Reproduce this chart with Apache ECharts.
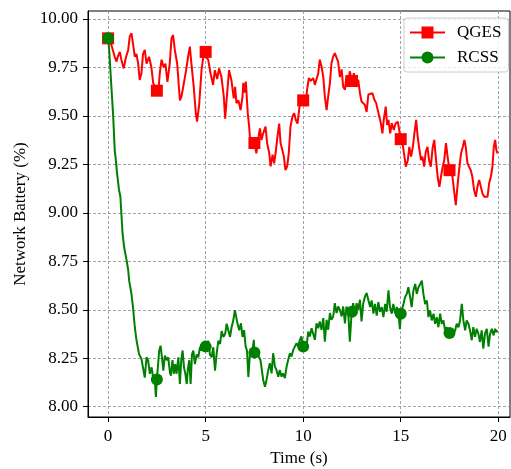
<!DOCTYPE html>
<html>
<head>
<meta charset="utf-8">
<script src="https://cdn.jsdelivr.net/npm/echarts@6/dist/echarts.min.js"></script>
<style>html,body{margin:0;padding:0;background:#fff}#c{width:511px;height:469px}</style>
</head>
<body>
<div id="c"></div>
<script>
// ---- data (time in s, battery in %) ----
const qgesLine = [
[0,9.90],[0.17,9.866],[0.34,9.805],[0.43,9.78],[0.51,9.81],[0.6,9.83],[0.68,9.79],[0.8,9.745],[0.91,9.80],[1.03,9.84],
[1.11,9.91],[1.2,9.926],[1.28,9.87],[1.37,9.805],[1.45,9.82],[1.54,9.77],[1.62,9.685],[1.71,9.72],[1.79,9.82],[1.88,9.84],
[1.97,9.77],[2.1,9.805],[2.22,9.75],[2.31,9.67],[2.39,9.65],[2.5,9.63],[2.56,9.607],[2.65,9.72],[2.74,9.79],[2.85,9.75],
[2.94,9.77],[3.04,9.676],[3.16,9.77],[3.25,9.90],[3.33,9.917],[3.42,9.84],[3.54,9.77],[3.68,9.58],[3.76,9.60],[3.88,9.667],
[4.0,9.736],[4.1,9.805],[4.19,9.857],[4.27,9.77],[4.39,9.65],[4.5,9.51],[4.56,9.47],[4.67,9.56],[4.79,9.736],[4.9,9.82],
[5.0,9.83],[5.13,9.79],[5.25,9.72],[5.38,9.66],[5.47,9.736],[5.59,9.69],[5.69,9.745],[5.81,9.70],[5.93,9.60],[6.0,9.486],
[6.1,9.615],[6.2,9.736],[6.32,9.685],[6.44,9.59],[6.51,9.65],[6.58,9.566],[6.68,9.58],[6.79,9.53],[6.89,9.60],[6.93,9.67],
[7.0,9.62],[7.06,9.677],[7.16,9.514],[7.23,9.445],[7.28,9.376],[7.37,9.36],[7.5,9.36],[7.6,9.307],[7.69,9.376],[7.78,9.436],
[7.86,9.376],[7.95,9.41],[8.07,9.445],[8.15,9.36],[8.26,9.307],[8.33,9.24],[8.43,9.30],[8.51,9.255],[8.6,9.32],[8.68,9.393],
[8.77,9.46],[8.84,9.36],[8.94,9.32],[9.01,9.29],[9.09,9.22],[9.18,9.24],[9.26,9.307],[9.35,9.445],[9.45,9.497],[9.54,9.514],
[9.62,9.48],[9.71,9.46],[9.79,9.53],[9.88,9.60],[10,9.58],[10.12,9.55],[10.2,9.635],[10.29,9.695],[10.39,9.68],[10.51,9.695],
[10.6,9.66],[10.68,9.67],[10.77,9.72],[10.85,9.79],[10.94,9.755],[11.03,9.70],[11.11,9.60],[11.2,9.53],[11.28,9.60],[11.37,9.67],
[11.45,9.772],[11.54,9.807],[11.62,9.824],[11.71,9.833],[11.79,9.78],[11.88,9.70],[11.97,9.74],[12.05,9.65],[12.14,9.635],[12.22,9.71],
[12.31,9.67],[12.39,9.73],[12.5,9.68],[12.6,9.72],[12.7,9.65],[12.82,9.686],[12.91,9.617],[12.99,9.574],[13.08,9.58],[13.16,9.557],
[13.25,9.52],[13.34,9.61],[13.43,9.617],[13.55,9.617],[13.65,9.583],[13.74,9.566],[13.82,9.53],[13.89,9.522],[13.98,9.462],[14.06,9.41],
[14.13,9.48],[14.23,9.548],[14.3,9.453],[14.37,9.48],[14.46,9.41],[14.54,9.462],[14.64,9.428],[14.74,9.462],[14.85,9.47],[15,9.38],
[15.09,9.36],[15.19,9.29],[15.26,9.238],[15.36,9.27],[15.44,9.34],[15.53,9.29],[15.62,9.34],[15.7,9.41],[15.79,9.48],[15.87,9.39],
[15.96,9.324],[16.04,9.272],[16.11,9.29],[16.2,9.238],[16.28,9.315],[16.37,9.34],[16.45,9.272],[16.54,9.238],[16.64,9.34],[16.72,9.376],
[16.81,9.272],[16.89,9.186],[16.98,9.134],[17.06,9.186],[17.15,9.238],[17.23,9.272],[17.32,9.36],[17.4,9.29],[17.5,9.22],[17.58,9.238],
[17.67,9.17],[17.75,9.10],[17.82,9.04],[17.89,9.117],[17.99,9.22],[18.09,9.307],[18.18,9.34],[18.26,9.376],[18.33,9.34],[18.42,9.255],
[18.5,9.238],[18.59,9.22],[18.67,9.186],[18.76,9.117],[18.85,9.083],[18.93,9.134],[19.02,9.17],[19.1,9.178],[19.19,9.10],[19.28,9.083],
[19.36,9.09],[19.45,9.083],[19.53,9.152],[19.62,9.186],[19.7,9.238],[19.77,9.34],[19.84,9.376],[19.9,9.324],[19.96,9.307]
];
const rcssLine = [
[0,9.90],[0.05,9.85],[0.15,9.68],[0.26,9.50],[0.34,9.324],[0.39,9.28],[0.46,9.204],[0.56,9.118],[0.63,9.083],[0.68,8.998],
[0.74,8.895],[0.82,8.825],[0.94,8.76],[1.03,8.705],[1.08,8.65],[1.2,8.58],[1.28,8.51],[1.37,8.41],[1.46,8.34],[1.59,8.27],
[1.71,8.247],[1.8,8.24],[1.88,8.15],[1.97,8.255],[2.05,8.24],[2.14,8.17],[2.23,8.203],[2.31,8.15],[2.4,8.126],[2.45,8.05],
[2.5,8.14],[2.62,8.29],[2.69,8.315],[2.76,8.255],[2.83,8.186],[2.91,8.264],[3.0,8.24],[3.08,8.255],[3.17,8.178],[3.22,8.16],
[3.3,8.24],[3.37,8.17],[3.44,8.22],[3.51,8.17],[3.6,8.255],[3.68,8.117],[3.75,8.24],[3.82,8.29],[3.89,8.203],[3.96,8.17],
[4.03,8.117],[4.09,8.195],[4.16,8.24],[4.23,8.117],[4.3,8.27],[4.37,8.29],[4.45,8.22],[4.54,8.27],[4.62,8.255],[4.71,8.307],
[4.79,8.29],[4.88,8.307],[4.96,8.324],[5.0,8.31],[5.05,8.29],[5.14,8.34],[5.22,8.27],[5.31,8.255],[5.39,8.307],[5.48,8.186],
[5.56,8.27],[5.65,8.34],[5.74,8.324],[5.82,8.39],[5.91,8.36],[6.0,8.376],[6.08,8.428],[6.17,8.39],[6.25,8.36],[6.33,8.41],
[6.42,8.447],[6.5,8.498],[6.58,8.50],[6.63,8.43],[6.72,8.395],[6.81,8.43],[6.89,8.36],[6.97,8.395],[7.05,8.31],[7.12,8.29],
[7.19,8.153],[7.28,8.29],[7.38,8.276],[7.47,8.345],[7.5,8.28],[7.56,8.276],[7.64,8.293],[7.72,8.259],[7.81,8.241],[7.88,8.19],
[7.95,8.138],[8.04,8.103],[8.12,8.138],[8.21,8.19],[8.29,8.224],[8.38,8.172],[8.46,8.276],[8.55,8.207],[8.63,8.19],[8.72,8.155],
[8.8,8.19],[8.89,8.155],[8.97,8.172],[9.06,8.147],[9.15,8.207],[9.23,8.241],[9.32,8.276],[9.4,8.259],[9.49,8.293],[9.57,8.30],
[9.66,8.328],[9.74,8.31],[9.83,8.345],[9.91,8.362],[10,8.31],[10.09,8.30],[10.17,8.31],[10.26,8.388],[10.34,8.362],[10.43,8.405],
[10.51,8.397],[10.6,8.345],[10.68,8.43],[10.77,8.405],[10.85,8.44],[10.94,8.397],[11.03,8.457],[11.11,8.336],[11.2,8.448],[11.28,8.397],
[11.37,8.483],[11.45,8.448],[11.54,8.466],[11.62,8.534],[11.71,8.483],[11.79,8.517],[11.88,8.50],[11.97,8.466],[12.05,8.517],[12.14,8.43],
[12.22,8.517],[12.31,8.483],[12.39,8.336],[12.47,8.466],[12.5,8.49],[12.56,8.534],[12.65,8.483],[12.74,8.534],[12.82,8.50],[12.91,8.552],
[12.99,8.44],[13.08,8.534],[13.17,8.569],[13.25,8.586],[13.34,8.582],[13.43,8.514],[13.51,8.548],[13.6,8.48],[13.68,8.53],[13.77,8.47],
[13.85,8.54],[13.94,8.49],[14.03,8.514],[14.11,8.462],[14.2,8.53],[14.28,8.49],[14.37,8.6],[14.45,8.514],[14.54,8.48],[14.62,8.53],
[14.71,8.48],[14.8,8.514],[14.88,8.48],[14.96,8.40],[15,8.48],[15.05,8.497],[15.14,8.53],[15.22,8.565],[15.31,8.582],[15.39,8.616],
[15.48,8.565],[15.56,8.514],[15.65,8.60],[15.74,8.633],[15.82,8.582],[15.91,8.616],[16.0,8.633],[16.08,8.65],[16.16,8.582],[16.25,8.53],
[16.34,8.548],[16.42,8.462],[16.5,8.497],[16.59,8.445],[16.68,8.48],[16.76,8.428],[16.85,8.462],[16.93,8.41],[17.02,8.48],[17.1,8.428],
[17.19,8.445],[17.27,8.394],[17.36,8.41],[17.44,8.377],[17.5,8.38],[17.53,8.394],[17.62,8.368],[17.7,8.377],[17.79,8.394],[17.87,8.428],
[17.96,8.41],[18.04,8.445],[18.13,8.53],[18.21,8.445],[18.3,8.394],[18.38,8.445],[18.47,8.428],[18.55,8.394],[18.64,8.343],[18.72,8.41],
[18.81,8.36],[18.89,8.402],[18.98,8.377],[19.06,8.334],[19.15,8.394],[19.23,8.30],[19.32,8.377],[19.41,8.402],[19.5,8.31],[19.58,8.377],
[19.67,8.402],[19.75,8.368],[19.84,8.402],[19.9,8.385],[19.96,8.394]
];
// times at which markers are drawn
const markerTimes = [0, 2.5, 5, 7.5, 10, 12.5, 15, 17.5];
const xTicks = [0, 5, 10, 15, 20];
const yTicks = [8.00, 8.25, 8.50, 8.75, 9.00, 9.25, 9.50, 9.75, 10.00];
const seriesNames = ['QGES', 'RCSS'];

const FONT = 'Liberation Serif';

function build(line, sym) {
  return line.map(p => {
    const isMarker = markerTimes.some(t => Math.abs(t - p[0]) < 1e-9);
    return isMarker ? {value: p, symbol: sym, symbolSize: 12}
                    : {value: p, symbol: 'none'};
  });
}

const chart = echarts.init(document.getElementById('c'), null, {renderer: 'canvas'});
chart.setOption({
  animation: false,
  backgroundColor: '#fff',
  grid: {left: 88, right: 1, top: 11, bottom: 52, containLabel: false, outerBoundsMode: 'none',
         show: true, borderColor: '#000', borderWidth: 1, backgroundColor: 'transparent'},
  legend: {
    orient: 'vertical', left: 404, top: 18,
    padding: [6, 7, 6, 5],
    itemWidth: 35, itemHeight: 15, itemGap: 8,
    borderColor: '#cccccc', borderWidth: 1, borderRadius: 3,
    backgroundColor: 'rgba(255,255,255,0.8)',
    textStyle: {fontFamily: FONT, fontSize: 17, color: '#000', padding: [0, 0, 0, 7]},
    data: seriesNames
  },
  xAxis: {
    type: 'value', min: -1.03, max: 20.6,
    name: 'Time (s)', nameLocation: 'middle', nameGap: 33,
    nameTextStyle: {fontFamily: FONT, fontSize: 17, color: '#000'},
    axisLine: {show: true, onZero: false, lineStyle: {color: '#000', width: 1}},
    axisTick: {show: true, length: 5, customValues: xTicks, lineStyle: {color: '#000', width: 1}},
    axisLabel: {customValues: xTicks, fontFamily: FONT, fontSize: 17, color: '#000', margin: 11},
    splitLine: {show: true, lineStyle: {color: '#8a8a8a', width: 0.8, type: [3, 2]}}
  },
  yAxis: {
    type: 'value', min: 7.947, max: 10.041,
    name: 'Network Battery (%)', nameLocation: 'middle', nameGap: 54,
    nameTextStyle: {fontFamily: FONT, fontSize: 17, color: '#000'},
    axisLine: {show: true, onZero: false, lineStyle: {color: '#000', width: 1}},
    axisTick: {show: true, length: 5, customValues: yTicks, lineStyle: {color: '#000', width: 1}},
    axisLabel: {customValues: yTicks, fontFamily: FONT, fontSize: 17, color: '#000', margin: 10,
      formatter: v => v.toFixed(2)},
    splitLine: {show: true, lineStyle: {color: '#8a8a8a', width: 0.8, type: [3, 2]}}
  },
  series: [
    {name: seriesNames[0], type: 'line', data: build(qgesLine, 'rect'), symbol: 'rect', symbolSize: 12,
     showSymbol: true, showAllSymbol: true, color: '#ff0000',
     lineStyle: {color: '#ff0000', width: 2}, itemStyle: {color: '#ff0000'}},
    {name: seriesNames[1], type: 'line', data: build(rcssLine, 'circle'), symbol: 'circle', symbolSize: 12,
     showSymbol: true, showAllSymbol: true, color: '#008000',
     lineStyle: {color: '#008000', width: 2}, itemStyle: {color: '#008000'}}
  ]
});
</script>
</body>
</html>
